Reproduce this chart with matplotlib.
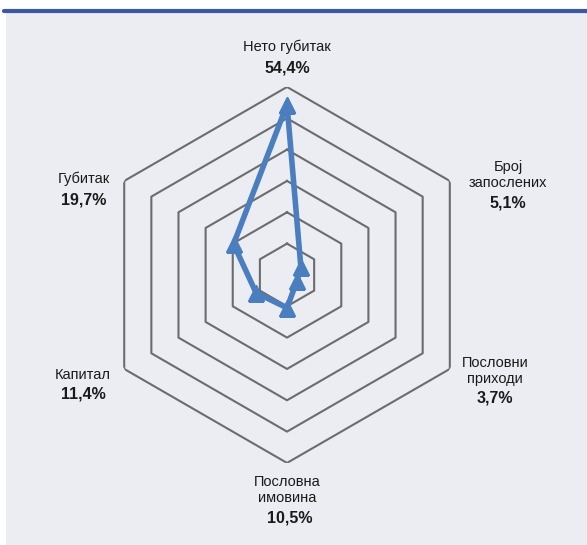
import numpy as np
import matplotlib.pyplot as plt
from matplotlib.patches import Rectangle

# Показатељи (у смеру казаљке, почев од врха)
kategorije = ['Нето губитак', 'Број\nзапослених', 'Пословни\nприходи',
              'Пословна\nимовина', 'Капитал', 'Губитак']
vrednosti = [54.4, 5.1, 3.7, 10.5, 11.4, 19.7]
procenti = ['54,4%', '5,1%', '3,7%', '10,5%', '11,4%', '19,7%']
nivoi = [10, 20, 30, 40, 50, 60]

plt.rcParams['font.family'] = ['Liberation Sans', 'DejaVu Sans']

fig = plt.figure(figsize=(5.87, 5.45), dpi=100)

# pozadina panela i plava linija gore
fig.patches.append(Rectangle((6 / 587, 0), 1, 1 - 13 / 545, transform=fig.transFigure,
                             facecolor='#ecedf3', edgecolor='none', zorder=-5))
fig.add_artist(plt.Line2D([4 / 587, 1], [1 - 11 / 545] * 2, transform=fig.transFigure,
                          color='#3b59a0', lw=3, solid_capstyle='round'))

ax = fig.add_axes([0.1687, 0.1505, 0.6405, 0.690], projection='polar')
ax.set_theta_zero_location('N')
ax.set_theta_direction(-1)
ax.patch.set_visible(False)
ax.spines['polar'].set_visible(False)
ax.grid(False)
ax.set_xticks([])
ax.set_yticks([])
ax.set_ylim(0, 60)

uglovi = np.linspace(0, 2 * np.pi, len(kategorije), endpoint=False)
zatvoreni = np.append(uglovi, uglovi[0])

# šestougaona mreža
for n in nivoi:
    ax.plot(zatvoreni, [n] * len(zatvoreni), color='#6c6c6c', lw=1.5, zorder=1)

ax.plot(zatvoreni, vrednosti + vrednosti[:1], color='#4a7ebf', lw=4,
        marker='^', markersize=11, solid_joinstyle='round', zorder=3)

# natpisi
poz_naziv = [(287, 47), (508, 175), (495, 371), (287, 490), (83, 375), (84, 179)]
poz_proc = [(287, 68), (508, 203), (495, 398), (290, 518), (83, 394), (84, 200)]
for naziv, proc, (xn, yn), (xp, yp) in zip(kategorije, procenti, poz_naziv, poz_proc):
    fig.text(xn / 587, 1 - yn / 545, naziv, ha='center', va='center',
             fontsize=10.5, color='#1a1a1a', linespacing=1.2)
    fig.text(xp / 587, 1 - yp / 545, proc, ha='center', va='center',
             fontsize=11.5, fontweight='bold', color='#1a1a1a')

fig.savefig('out.png', dpi=100, facecolor='white')
